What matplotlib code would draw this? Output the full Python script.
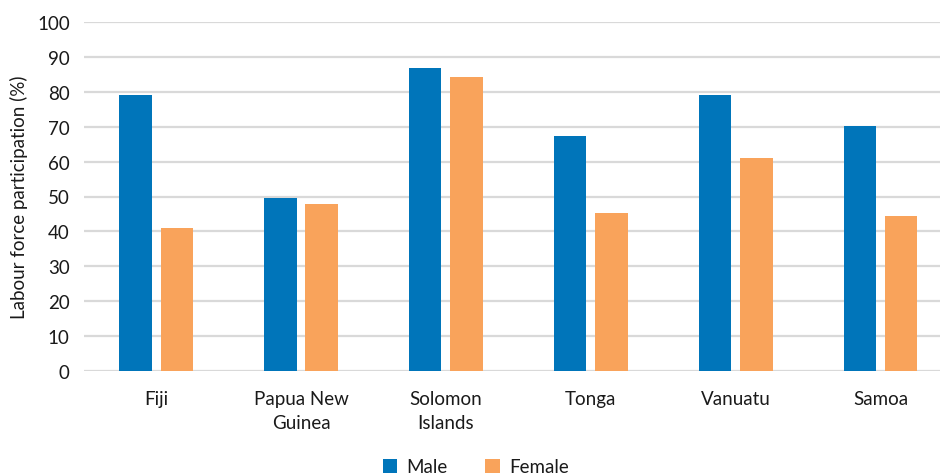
import matplotlib
matplotlib.use("Agg")
import matplotlib.pyplot as plt
import numpy as np

countries = ["Fiji", "Papua New\nGuinea", "Solomon\nIslands", "Tonga", "Vanuatu", "Samoa"]
male = [79.1, 49.6, 87.0, 67.4, 79.1, 70.3]
female = [41.0, 47.8, 84.2, 45.2, 61.1, 44.3]
yticks = list(range(0, 101, 10))

BLUE = "#0075BA"
ORANGE = "#F9A35B"
GRID = "#D9D9D9"
TEXT = "#1A1A1A"

plt.rcParams["font.family"] = ["Lato", "DejaVu Sans"]
FS = 13.5

fig = plt.figure(figsize=(9.4, 4.77), dpi=100)
W, H = 940, 477
left, right = 83.7, 952.9
top, bottom = 23.3, 371.7
ax = fig.add_axes([left / W, 1 - bottom / H, (right - left) / W, (bottom - top) / H])

x = np.arange(len(countries))
bw = 0.224
off = 0.143
ax.bar(x - off, male, width=bw, color=BLUE, label="Male", zorder=3)
ax.bar(x + off, female, width=bw, color=ORANGE, label="Female", zorder=3)

ax.set_xlim(-0.5, len(countries) - 0.5)
ax.set_ylim(0, 100)
ax.set_yticks(yticks)
ax.set_yticklabels([str(v) for v in yticks], fontsize=FS, color=TEXT)
ax.set_xticks(x)
ax.set_xticklabels(countries, fontsize=FS, color=TEXT, linespacing=1.5)
ax.tick_params(axis="both", length=0)
ax.tick_params(axis="y", pad=10)
ax.tick_params(axis="x", pad=14)

ax.grid(axis="y", color=GRID, linewidth=1.6, zorder=0)
ax.set_axisbelow(True)
for s in ax.spines.values():
    s.set_visible(False)

# y-axis title, centred on the plotting area
fig.text(19 / W, 1 - 0.5 * (top + bottom) / H, "Labour force participation (%)",
         rotation=90, ha="center", va="center", fontsize=FS, color=TEXT)

fig.legend(loc="center", bbox_to_anchor=(476 / W, 1 - 468 / H), ncol=2, frameon=False,
           fontsize=FS, handlelength=0.75, handleheight=0.75, handletextpad=0.5,
           columnspacing=2.0, labelcolor=TEXT)

fig.savefig("out.png", dpi=100)
